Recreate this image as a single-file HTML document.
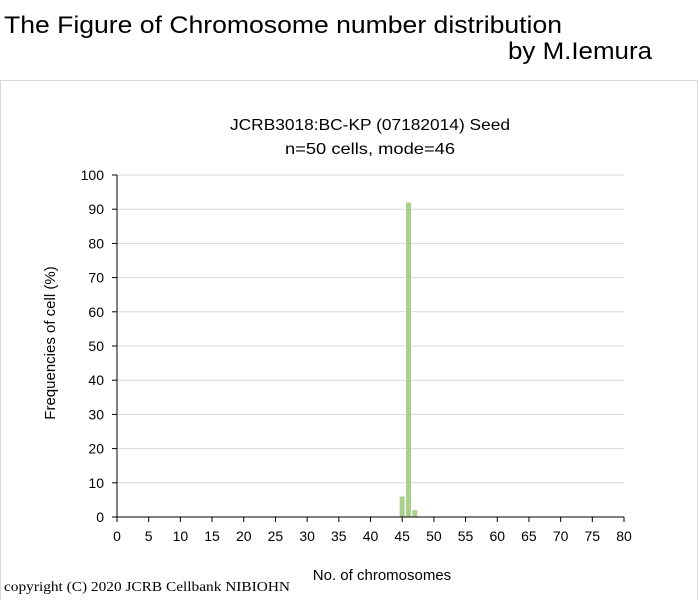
<!DOCTYPE html>
<html><head><meta charset="utf-8"><style>
html,body{margin:0;padding:0;background:#fff;width:700px;height:600px;overflow:hidden}
svg{display:block;font-family:"Liberation Sans",sans-serif}
</style></head><body>
<svg id="c" width="700" height="600">
<text x="4" y="33" font-size="24" textLength="558" lengthAdjust="spacingAndGlyphs" fill="#000">The Figure of Chromosome number distribution</text>
<text x="508" y="59" font-size="24" textLength="144" lengthAdjust="spacingAndGlyphs" fill="#000">by M.Iemura</text>
<rect x="0.5" y="80.5" width="697" height="530" fill="#fff" stroke="#d9d9d9"/>
<text x="370" y="130" font-size="16" text-anchor="middle" textLength="280" lengthAdjust="spacingAndGlyphs" fill="#000">JCRB3018:BC-KP (07182014) Seed</text>
<text x="370" y="154" font-size="16" text-anchor="middle" textLength="170" lengthAdjust="spacingAndGlyphs" fill="#000">n=50 cells, mode=46</text>
<g id="grid"></g><g id="bars"></g><g id="axes"></g>
<text x="55" y="343" font-size="15" text-anchor="middle" transform="rotate(-90 55 343)" fill="#000">Frequencies of cell (%)</text>
<text x="382" y="580" font-size="15" text-anchor="middle" fill="#000">No. of chromosomes</text>
<text x="4" y="591" font-size="14" font-family="Liberation Serif,serif" textLength="286" lengthAdjust="spacingAndGlyphs" fill="#000">copyright (C) 2020 JCRB Cellbank NIBIOHN</text>
</svg>
<script>
const categories=[45,46,47];
const values=[6,92,2];
const yTicks=[0,10,20,30,40,50,60,70,80,90,100];
const xTicks=[0,5,10,15,20,25,30,35,40,45,50,55,60,65,70,75,80];
const NS="http://www.w3.org/2000/svg";
const X0=117,X1=624,Y0=517,Y1=175;
const xs=v=>X0+(v/80)*(X1-X0);
const ys=v=>Y0-(v/100)*(Y0-Y1);
function mk(t,a,p){const e=document.createElementNS(NS,t);for(const k in a)e.setAttribute(k,a[k]);p.appendChild(e);return e;}
const grid=document.getElementById('grid'),bars=document.getElementById('bars'),axes=document.getElementById('axes');
yTicks.forEach(v=>{
 if(v>0){const l=mk('line',{x1:X0,x2:X1,y1:ys(v),y2:ys(v),stroke:'#d9d9d9','stroke-width':1},grid);
 
 }
 const tk=mk('line',{x1:X0-5,x2:X0,y1:ys(v),y2:ys(v),stroke:'#000'},axes);
 
 
 const t=mk('text',{x:X0-13,y:ys(v)+5,'font-size':14,'text-anchor':'end',fill:'#000'},axes);t.textContent=v;
 
 
});
xTicks.forEach(v=>{
 const tk=mk('line',{x1:xs(v),x2:xs(v),y1:Y0,y2:Y0+5,stroke:'#000'},axes);
 
 
 const t=mk('text',{x:xs(v),y:Y0+24,'font-size':14,'text-anchor':'middle',fill:'#000'},axes);t.textContent=v;
 
 
});
const ya=mk('line',{x1:X0,x2:X0,y1:Y1,y2:Y0,stroke:'#000'},axes);


const xa=mk('line',{x1:X0,x2:X1,y1:Y0,y2:Y0,stroke:'#000'},axes);


const bw=(X1-X0)/80*0.8;
categories.forEach((c,i)=>{
 const r=mk('rect',{x:xs(c)-bw/2,y:ys(values[i]),width:bw,height:Y0-ys(values[i]),fill:'#a9d18e'},bars);
 
 
});
</script>
</body></html>
